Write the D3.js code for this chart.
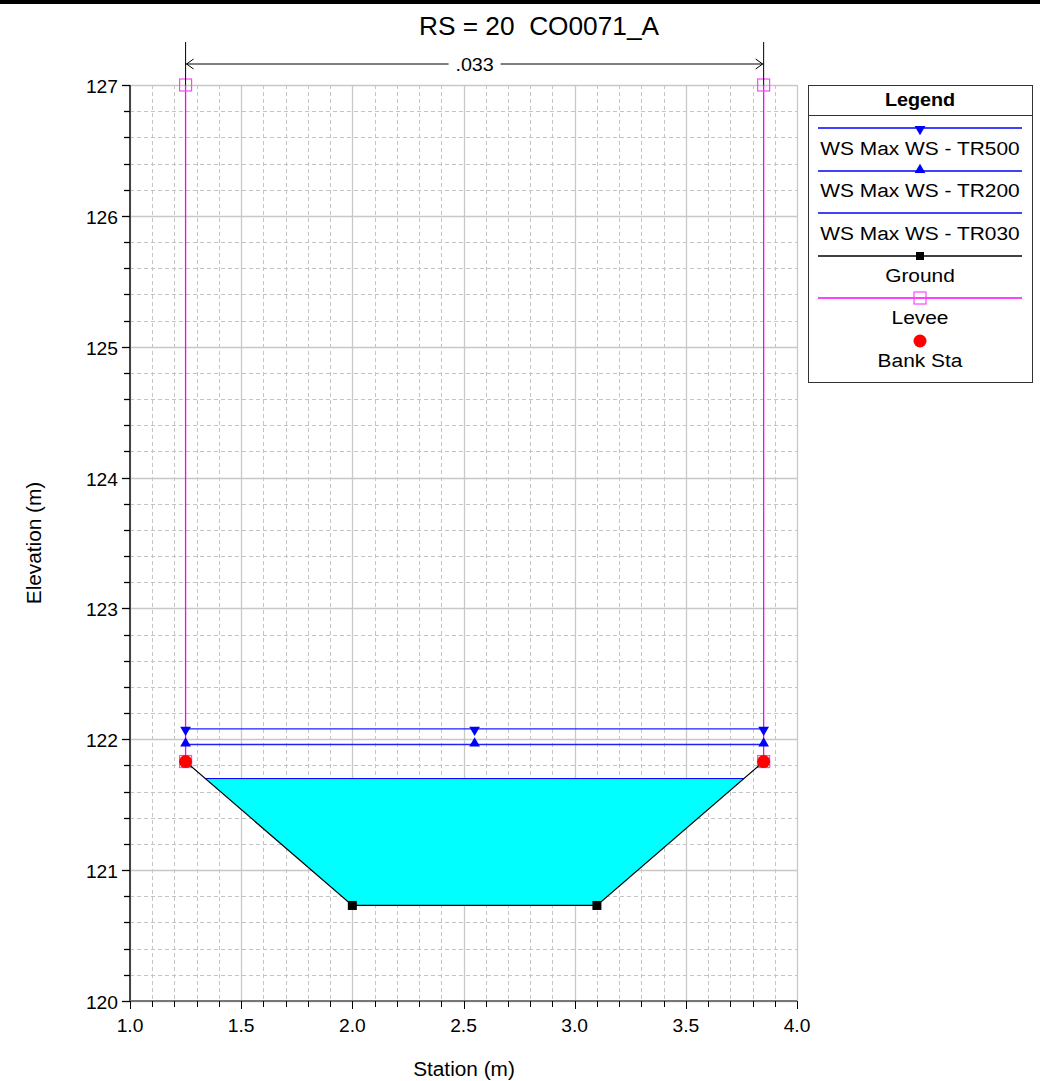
<!DOCTYPE html>
<html><head><meta charset="utf-8">
<script src="https://cdn.jsdelivr.net/npm/d3@7"></script>
<style>body{margin:0;background:#fff;font-family:"Liberation Sans",Arial,sans-serif;} text{white-space:pre;}</style>
</head><body><svg id="c" width="1040" height="1081"></svg>
<script>
const title = "RS = 20  CO0071_A";
const groundSta = [1.25, 2.0, 3.1, 3.85];
const groundElev = [121.83, 120.73, 120.73, 121.83];
const leveeLeft = [[1.25, 127.0], [1.25, 121.83]];
const leveeRight = [[3.85, 127.0], [3.85, 121.83]];
const bankSta = [[1.25, 121.83], [3.85, 121.83]];
const wsNames = ["WS Max WS - TR500", "WS Max WS - TR200", "WS Max WS - TR030"];
const wsElev = [122.08, 121.96, 121.70];
const wsMarkerSta = [1.25, 2.55, 3.85];
const nValue = ".033";
const nStart = 1.25, nEnd = 3.85;
const xTicks = [1.0, 1.5, 2.0, 2.5, 3.0, 3.5, 4.0];
const yTicks = [120, 121, 122, 123, 124, 125, 126, 127];

const svg = d3.select("#c");
const L = 130, R = 797, T = 85, B = 1001;
const x = d3.scaleLinear().domain([1, 4]).range([L, R]);
const y = d3.scaleLinear().domain([120, 127]).range([B, T]);

function txt(parent, px, py, str, fs, anchor, sx, weight, rot){
  const t = parent.append("text").attr("transform",`translate(${px},${py})${rot?` rotate(${rot})`:""} scale(${sx||1},1)`)
    .attr("font-size",fs).attr("text-anchor",anchor||"middle").attr("fill","#000").text(str);
  if(weight) t.attr("font-weight",weight);
  return t;
}

// top rule
svg.append("rect").attr("x",0).attr("y",0).attr("width",1040).attr("height",4).attr("fill","#000");

// grid
const g = svg.append("g");
const minX = d3.range(1.1, 4.0, 0.1).filter(v => Math.abs(v*2 - Math.round(v*2)) > 1e-6);
const minY = d3.range(120.2, 127, 0.2).filter(v => Math.abs(v - Math.round(v)) > 1e-6);
g.selectAll(".mx").data(minX).join("line").attr("x1",d=>Math.round(x(d))+0.5).attr("x2",d=>Math.round(x(d))+0.5)
 .attr("y1",T).attr("y2",B).attr("stroke","#c4c4c4").attr("stroke-dasharray","4,3");
g.selectAll(".my").data(minY).join("line").attr("y1",d=>Math.round(y(d))+0.5).attr("y2",d=>Math.round(y(d))+0.5)
 .attr("x1",L).attr("x2",R).attr("stroke","#c4c4c4").attr("stroke-dasharray","4,3");
g.selectAll(".Mx").data(xTicks).join("line").attr("x1",d=>Math.round(x(d))+0.5).attr("x2",d=>Math.round(x(d))+0.5)
 .attr("y1",T).attr("y2",B).attr("stroke","#c8c8c8").attr("stroke-width",1.3);
g.selectAll(".My").data(yTicks).join("line").attr("y1",d=>Math.round(y(d))+0.5).attr("y2",d=>Math.round(y(d))+0.5)
 .attr("x1",L).attr("x2",R).attr("stroke","#c8c8c8").attr("stroke-width",1.3);

// cyan fill for TR030
const wl = wsElev[2];
function crossX(i){ const x0=groundSta[i],x1=groundSta[i+1],y0=groundElev[i],y1=groundElev[i+1]; return x0+(wl-y0)/(y1-y0)*(x1-x0); }
const fillPts = [[crossX(0), wl]];
for (let i=0;i<groundSta.length;i++) if (groundElev[i] < wl) fillPts.push([groundSta[i], groundElev[i]]);
fillPts.push([crossX(groundSta.length-2), wl]);
svg.append("path").attr("d", d3.line().x(d=>x(d[0])).y(d=>y(d[1]))(fillPts)+"Z").attr("fill","#00ffff");
svg.append("line").attr("x1",x(fillPts[0][0])).attr("x2",x(fillPts[fillPts.length-1][0]))
 .attr("y1",y(wl)).attr("y2",y(wl)).attr("stroke","#0000ff").attr("stroke-width",1);

// WS lines
const tri = d3.symbol().type(d3.symbolTriangle).size(50);
[0,1].forEach(k=>{
  svg.append("line").attr("x1",x(wsMarkerSta[0])).attr("x2",x(wsMarkerSta[2])).attr("y1",y(wsElev[k])).attr("y2",y(wsElev[k]))
   .attr("stroke","#2020ff").attr("stroke-width",1.3);
});

// levees
[leveeLeft, leveeRight].forEach(lv=>{
  svg.append("path").attr("d", d3.line().x(d=>x(d[0])).y(d=>y(d[1]))(lv)).attr("stroke","#ff00ff").attr("stroke-width",1.3).attr("fill","none");
  lv.forEach(p=>svg.append("rect").attr("x",x(p[0])-6).attr("y",y(p[1])-6).attr("width",12).attr("height",12)
    .attr("fill","none").attr("stroke","#ff44ff").attr("stroke-width",1.2));
});

// markers on WS
wsMarkerSta.forEach(s=>{
  svg.append("path").attr("d",tri).attr("transform",`translate(${x(s)},${y(wsElev[0])+1}) rotate(180)`).attr("fill","#0000ff");
  svg.append("path").attr("d",tri).attr("transform",`translate(${x(s)},${y(wsElev[1])-1})`).attr("fill","#0000ff");
});

// ground
svg.append("path").attr("d", d3.line().x((d,i)=>x(groundSta[i])).y((d,i)=>y(groundElev[i]))(groundSta))
 .attr("stroke","#000").attr("stroke-width",1.2).attr("fill","none");
groundSta.forEach((s,i)=>{ if(i>0 && i<groundSta.length-1)
  svg.append("rect").attr("x",x(s)-4.5).attr("y",y(groundElev[i])-4.5).attr("width",9).attr("height",9).attr("fill","#000"); });

// bank stations
bankSta.forEach(p=>svg.append("circle").attr("cx",x(p[0])).attr("cy",y(p[1])).attr("r",6.5).attr("fill","#ff0000"));

// axes
svg.append("line").attr("x1",L).attr("x2",L).attr("y1",T).attr("y2",B+1).attr("stroke","#444").attr("stroke-width",2);
svg.append("line").attr("x1",L).attr("x2",R).attr("y1",B).attr("y2",B).attr("stroke","#777").attr("stroke-width",2);
const allYT = d3.range(120, 127.01, 0.2);
svg.selectAll(".yt").data(allYT).join("line").attr("x1",d=>Math.abs(d-Math.round(d))<1e-6?L-8:L-6).attr("x2",L)
 .attr("y1",d=>Math.round(y(d))+0.5).attr("y2",d=>Math.round(y(d))+0.5).attr("stroke","#000").attr("stroke-width",1.3);
const allXT = d3.range(1.0, 4.001, 0.1);
svg.selectAll(".xt").data(allXT).join("line").attr("y1",B).attr("y2",d=>Math.abs(d*2-Math.round(d*2))<1e-6?B+8:B+6)
 .attr("x1",d=>Math.round(x(d))+0.5).attr("x2",d=>Math.round(x(d))+0.5).attr("stroke","#000").attr("stroke-width",1);
const ax = svg.append("g");
yTicks.forEach(d=>txt(ax, L-12, y(d)+8, String(d), 18.5, "end", 1.04));
xTicks.forEach(d=>txt(ax, x(d), B+31, d.toFixed(1), 18.5, "middle", 1.04));
txt(ax, 464, 1076, "Station (m)", 20, "middle", 1.04);
txt(ax, 41, 543, "Elevation (m)", 20, "middle", 1.04, null, -90);

// title
txt(svg, 539, 35, title, 25, "middle", 1.05);

// n-value annotation
const ay = 64, cx = (x(nStart)+x(nEnd))/2;
[nStart, nEnd].forEach(s=>svg.append("line").attr("x1",x(s)).attr("x2",x(s)).attr("y1",42).attr("y2",T).attr("stroke","#000").attr("stroke-width",1));
svg.append("line").attr("x1",x(nStart)).attr("x2",cx-26).attr("y1",ay).attr("y2",ay).attr("stroke","#000");
svg.append("line").attr("x1",cx+26).attr("x2",x(nEnd)).attr("y1",ay).attr("y2",ay).attr("stroke","#000");
svg.append("path").attr("d",`M${x(nStart)+8},${ay-5}L${x(nStart)+1},${ay}L${x(nStart)+8},${ay+5}`).attr("fill","none").attr("stroke","#000");
svg.append("path").attr("d",`M${x(nEnd)-8},${ay-5}L${x(nEnd)-1},${ay}L${x(nEnd)-8},${ay+5}`).attr("fill","none").attr("stroke","#000");
txt(svg, cx, ay+7, nValue, 19, "middle", 1.04);

// legend
const lg = svg.append("g");
lg.append("rect").attr("x",808.5).attr("y",85.5).attr("width",224).attr("height",297).attr("fill","#fff").attr("stroke","#333");
lg.append("line").attr("x1",808).attr("x2",1033).attr("y1",115.5).attr("y2",115.5).attr("stroke","#333");
txt(lg, 920, 106, "Legend", 19, "middle", 1.04, "bold");
const lx1=818, lx2=1022, lc=920;
const items = [
 {name: wsNames[0], ly:128, ty:155, col:"#0000ff", m:"down"},
 {name: wsNames[1], ly:171, ty:197, col:"#0000ff", m:"up"},
 {name: wsNames[2], ly:213, ty:240, col:"#0000ff", m:null},
 {name: "Ground", ly:256, ty:282, col:"#000", m:"sq"},
 {name: "Levee", ly:298, ty:324, col:"#ff00ff", m:"lev"},
 {name: "Bank Sta", ly:341, ty:367, col:null, m:"circ"}
];
items.forEach(it=>{
  if(it.col) lg.append("line").attr("x1",lx1).attr("x2",lx2).attr("y1",it.ly).attr("y2",it.ly).attr("stroke",it.col).attr("stroke-width",1.3);
  if(it.m==="down") lg.append("path").attr("d",tri).attr("transform",`translate(${lc},${it.ly+1}) rotate(180)`).attr("fill","#0000ff");
  if(it.m==="up") lg.append("path").attr("d",tri).attr("transform",`translate(${lc},${it.ly-1})`).attr("fill","#0000ff");
  if(it.m==="sq") lg.append("rect").attr("x",lc-4).attr("y",it.ly-4).attr("width",8).attr("height",8).attr("fill","#000");
  if(it.m==="lev") lg.append("rect").attr("x",lc-6).attr("y",it.ly-6).attr("width",12).attr("height",12).attr("fill","none").attr("stroke","#ff44ff").attr("stroke-width",1.2);
  if(it.m==="circ") lg.append("circle").attr("cx",lc).attr("cy",it.ly).attr("r",6.5).attr("fill","#ff0000");
  txt(lg, lc, it.ty, it.name, 19, "middle", 1.1);
});
</script></body></html>
